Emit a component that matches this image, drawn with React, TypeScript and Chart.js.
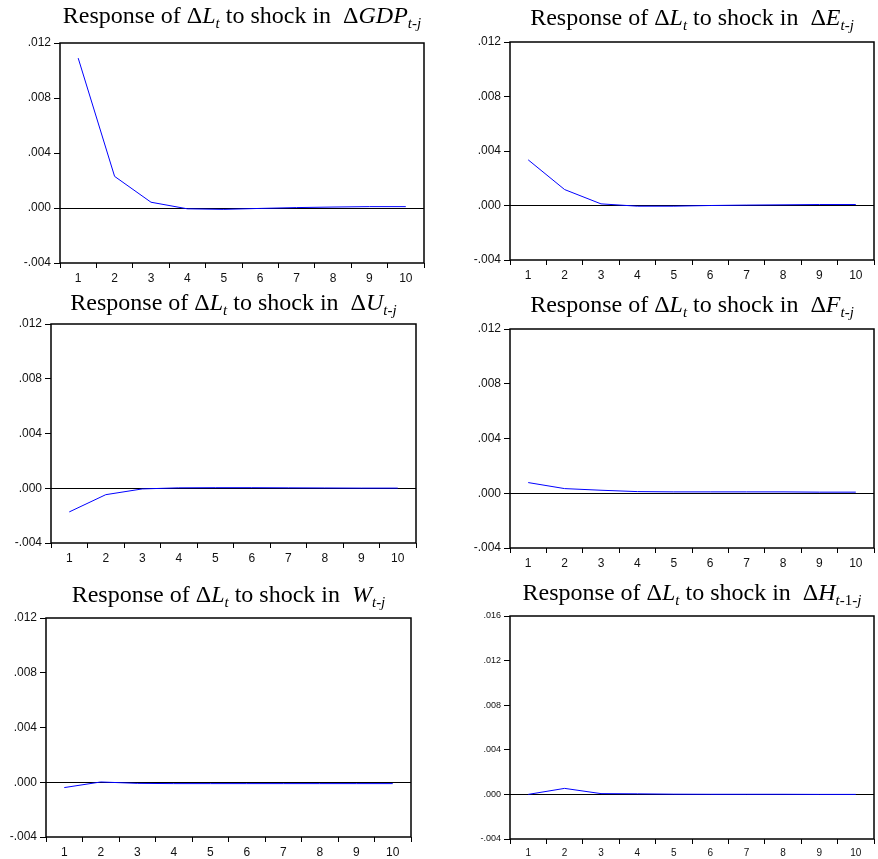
import React, { useEffect, useRef } from 'react';
import { Chart, registerables } from 'chart.js';

Chart.register(...registerables);

// ---------- data ----------
const periods = ['1', '2', '3', '4', '5', '6', '7', '8', '9', '10'];

const gdpResponse = [0.0109, 0.0023, 0.00042, -0.00006, -0.0001, -0.00003, 0.00003, 0.00007, 0.0001, 0.0001];
const eResponse = [0.00335, 0.00117, 0.00012, -0.00005, -0.00005, 0.0, 0.00003, 0.00005, 0.00007, 0.00007];
const uResponse = [-0.00173, -0.00047, -0.00005, 0.00003, 0.00004, 0.00004, 0.00003, 0.00002, 0.00001, 0.00001];
const fResponse = [0.00078, 0.00034, 0.00022, 0.00012, 0.0001, 0.0001, 0.0001, 0.0001, 0.00008, 0.00008];
const wResponse = [-0.00039, 0.00002, -0.00008, -0.0001, -0.0001, -0.0001, -0.0001, -0.0001, -0.0001, -0.0001];
const hResponse = [0.0, 0.00054, 0.00007, 0.00005, 0.00002, 0.00001, 0.00001, 0.00001, 0.0, 0.0];

const yTicksStd = [-0.004, 0, 0.004, 0.008, 0.012];
const yTickLabelsStd = ['-.004', '.000', '.004', '.008', '.012'];
const yTicksH = [-0.004, 0, 0.004, 0.008, 0.012, 0.016];
const yTickLabelsH = ['-.004', '.000', '.004', '.008', '.012', '.016'];

type Run = { text: string; italic?: boolean; sub?: boolean };

const head: Run[] = [
  { text: 'Response of ' },
  { text: '\u0394' },
  { text: 'L', italic: true },
  { text: 't', italic: true, sub: true },
  { text: ' to shock in  ' },
];

const titleGDP: Run[] = [...head, { text: '\u0394' }, { text: 'GDP', italic: true }, { text: 't-j', italic: true, sub: true }];
const titleE: Run[] = [...head, { text: '\u0394' }, { text: 'E', italic: true }, { text: 't-j', italic: true, sub: true }];
const titleU: Run[] = [...head, { text: '\u0394' }, { text: 'U', italic: true }, { text: 't-j', italic: true, sub: true }];
const titleF: Run[] = [...head, { text: '\u0394' }, { text: 'F', italic: true }, { text: 't-j', italic: true, sub: true }];
const titleW: Run[] = [...head, { text: 'W', italic: true }, { text: 't-j', italic: true, sub: true }];
const titleH: Run[] = [
  ...head,
  { text: '\u0394' },
  { text: 'H', italic: true },
  { text: 't', italic: true, sub: true },
  { text: '-1-', sub: true },
  { text: 'j', italic: true, sub: true },
];

// ---------- layout ----------
type Panel = {
  values: number[];
  title: Run[];
  yTicks: number[];
  yLabels: string[];
  cell: { x: number; y: number; w: number; h: number };
  plot: { l: number; r: number; t: number; b: number };
  titleBaseline: number;
  yFont: number;
  xFont: number;
};

const panels: Panel[] = [
  { values: gdpResponse, title: titleGDP, yTicks: yTicksStd, yLabels: yTickLabelsStd,
    cell: { x: 0, y: 0, w: 438, h: 287 }, plot: { l: 60, r: 424, t: 43, b: 263 }, titleBaseline: 23, yFont: 12, xFont: 12 },
  { values: eResponse, title: titleE, yTicks: yTicksStd, yLabels: yTickLabelsStd,
    cell: { x: 438, y: 0, w: 440, h: 287 }, plot: { l: 510, r: 874, t: 42, b: 260 }, titleBaseline: 25, yFont: 12, xFont: 12 },
  { values: uResponse, title: titleU, yTicks: yTicksStd, yLabels: yTickLabelsStd,
    cell: { x: 0, y: 287, w: 438, h: 286 }, plot: { l: 51, r: 416, t: 324, b: 543 }, titleBaseline: 310, yFont: 12, xFont: 12 },
  { values: fResponse, title: titleF, yTicks: yTicksStd, yLabels: yTickLabelsStd,
    cell: { x: 438, y: 287, w: 440, h: 286 }, plot: { l: 510, r: 874, t: 329, b: 548 }, titleBaseline: 312, yFont: 12, xFont: 12 },
  { values: wResponse, title: titleW, yTicks: yTicksStd, yLabels: yTickLabelsStd,
    cell: { x: 0, y: 573, w: 438, h: 286 }, plot: { l: 46, r: 411, t: 618, b: 837 }, titleBaseline: 602, yFont: 12, xFont: 12 },
  { values: hResponse, title: titleH, yTicks: yTicksH, yLabels: yTickLabelsH,
    cell: { x: 438, y: 573, w: 440, h: 286 }, plot: { l: 510, r: 874, t: 616, b: 839 }, titleBaseline: 600, yFont: 9, xFont: 10 },
];

const SERIF = '"Liberation Serif", "Times New Roman", serif';
const SANS = '"Liberation Sans", Arial, sans-serif';
const TITLE_SIZE = 24;
const SUB_SIZE = 15;
const SUB_SHIFT = 5;

function runFont(r: Run) {
  return `${r.italic ? 'italic ' : ''}${r.sub ? SUB_SIZE : TITLE_SIZE}px ${SERIF}`;
}

function PanelChart({ p }: { p: Panel }) {
  const ref = useRef<HTMLCanvasElement | null>(null);
  useEffect(() => {
    const canvas = ref.current;
    if (!canvas) return;
    const yW = p.plot.l - p.cell.x;
    const padT = p.plot.t - p.cell.y;
    const padR = p.cell.x + p.cell.w - p.plot.r;
    const xH = p.cell.y + p.cell.h - p.plot.b;
    const baseline = p.titleBaseline - p.cell.y;

    const framePlugin = {
      id: 'frameAndTitle',
      afterDraw(chart: any) {
        const { ctx, chartArea } = chart;
        ctx.save();
        ctx.strokeStyle = '#000';
        ctx.lineWidth = 1.5;
        ctx.strokeRect(chartArea.left, chartArea.top, chartArea.right - chartArea.left, chartArea.bottom - chartArea.top);
        // title
        ctx.fillStyle = '#000';
        ctx.textBaseline = 'alphabetic';
        ctx.textAlign = 'left';
        let total = 0;
        const widths = p.title.map((r) => {
          ctx.font = runFont(r);
          const w = ctx.measureText(r.text).width;
          total += w;
          return w;
        });
        let x = (chartArea.left + chartArea.right) / 2 - total / 2;
        p.title.forEach((r, i) => {
          ctx.font = runFont(r);
          ctx.fillText(r.text, x, baseline + (r.sub ? SUB_SHIFT : 0));
          x += widths[i];
        });
        ctx.restore();
      },
    };

    const chart = new Chart(canvas, {
      type: 'line',
      data: {
        labels: periods,
        datasets: [
          {
            data: p.values,
            borderColor: '#0000ff',
            borderWidth: 1,
            pointRadius: 0,
            tension: 0,
            fill: false,
          },
        ],
      },
      options: {
        responsive: false,
        animation: false,
        layout: { padding: { top: padT, right: padR, left: 0, bottom: 0 } },
        plugins: { legend: { display: false }, tooltip: { enabled: false }, title: { display: false } },
        scales: {
          x: {
            type: 'category',
            offset: true,
            border: { display: false },
            grid: { offset: true, drawOnChartArea: false, tickColor: '#000', tickLength: 5, lineWidth: 1 },
            ticks: { color: '#111', font: { family: SANS, size: p.xFont }, padding: 3, maxRotation: 0, autoSkip: false },
            afterFit(scale: any) {
              scale.height = xH;
            },
          },
          y: {
            min: p.yTicks[0],
            max: p.yTicks[p.yTicks.length - 1],
            border: { display: false },
            afterBuildTicks(scale: any) {
              scale.ticks = p.yTicks.map((v) => ({ value: v }));
            },
            grid: {
              drawOnChartArea: true,
              color: (c: any) => (c.tick && Math.abs(c.tick.value) < 1e-12 ? '#000' : 'rgba(0,0,0,0)'),
              tickColor: '#000',
              tickLength: 6,
              lineWidth: 1,
            },
            ticks: {
              color: '#111',
              font: { family: SANS, size: p.yFont },
              padding: 3,
              callback: (_v: any, i: number) => p.yLabels[i],
            },
            afterFit(scale: any) {
              scale.width = yW;
            },
          },
        },
      },
      plugins: [framePlugin],
    });
    return () => chart.destroy();
  }, [p]);

  return (
    <canvas
      ref={ref}
      width={p.cell.w}
      height={p.cell.h}
      style={{ position: 'absolute', left: p.cell.x, top: p.cell.y, width: p.cell.w, height: p.cell.h }}
    />
  );
}

export default function App() {
  return (
    <div style={{ position: 'absolute', left: 0, top: 0, width: 878, height: 859, background: '#fff' }}>
      {panels.map((p, i) => (
        <PanelChart key={i} p={p} />
      ))}
    </div>
  );
}
